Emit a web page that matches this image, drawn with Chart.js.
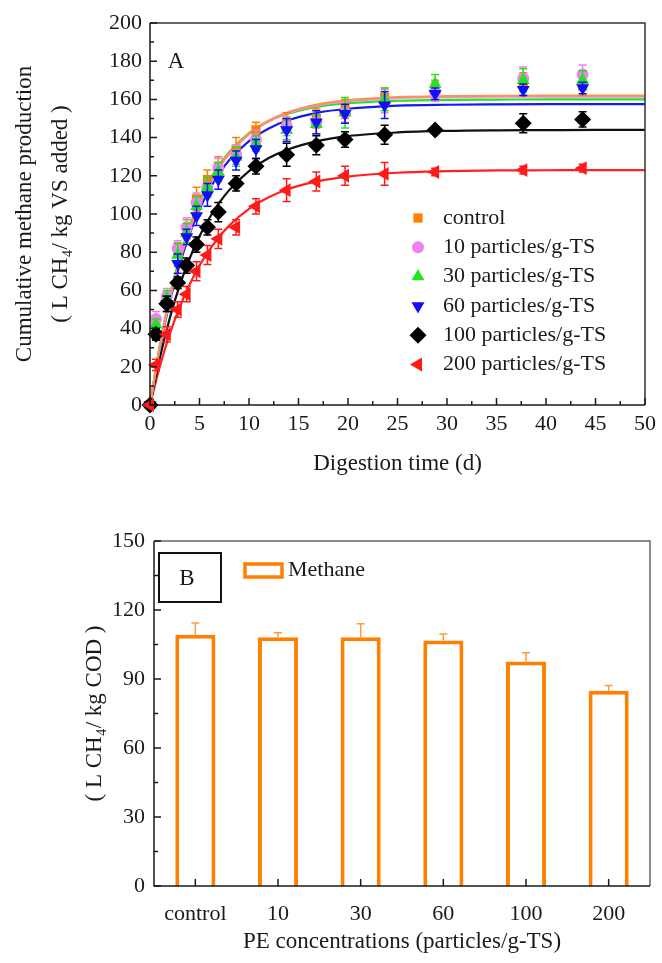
<!DOCTYPE html>
<html>
<head>
<meta charset="utf-8">
<script src="https://cdn.jsdelivr.net/npm/chart.js@4.4.1/dist/chart.umd.min.js"></script>
<style>
  body { margin: 0; background: #fff; }
  #wrap { position: relative; width: 662px; height: 963px; }
  #topBox { position: absolute; left: 0; top: 0; width: 662px; height: 490px; }
  #botBox { position: absolute; left: 0; top: 490px; width: 662px; height: 473px; }
</style>
</head>
<body>
<div id="wrap">
  <div id="topBox"><canvas id="cumChart" width="662" height="490"></canvas></div>
  <div id="botBox"><canvas id="yieldChart" width="662" height="473"></canvas></div>
</div>
<script>
// ---- panel A: cumulative methane, measured points (days) ----
const days = [0, 0.6, 1.7, 2.8, 3.7, 4.7, 5.8, 6.9, 8.7, 10.7, 13.8, 16.8, 19.7, 23.7, 28.8, 37.7, 43.7];

const controlVals = [0, 43, 55, 80, 92, 108, 118, 125, 134, 144, 148, 150, 155, 161, 165, 168, 167];
const controlErr  = [0, 3, 4, 5, 5, 6, 5, 5, 6, 4, 5, 5, 5, 5, 5, 6, 5];
const pe10Vals = [0, 45, 57, 82, 93, 106, 114, 124, 131, 139, 146, 148, 153, 159, 164, 171, 173];
const pe10Err  = [0, 4, 4, 4, 5, 5, 5, 5, 5, 5, 5, 6, 5, 6, 5, 6, 5];
const pe30Vals = [0, 42, 56, 78.5, 90, 104, 114, 122, 130, 137, 144, 147, 153, 160, 168, 170, 170];
const pe30Err  = [0, 3, 4, 6, 5, 5, 5, 5, 5, 4, 5, 5, 8, 6, 5, 6, 5];
const pe60Vals = [0, 37, 53, 74, 88, 99, 110, 118, 128, 134, 144, 148, 152.5, 157, 163, 165, 166];
const pe60Err  = [0, 3, 4, 5, 4, 5, 6, 5, 5, 5, 6, 6, 5, 7, 3, 3, 3];
const pe100Vals = [0, 37, 53, 64, 73, 84, 93, 101, 116, 125, 131, 136, 139, 141.5, 144, 147.5, 149.5];
const pe100Err  = [0, 3, 4, 3, 4, 4, 4, 5, 4, 4, 6, 5, 4, 5, 1, 5, 4];
const pe200Vals = [0, 21, 37, 50, 58, 70, 78.5, 87, 93, 104, 112.5, 117, 120, 121, 122, 123, 124];
const pe200Err  = [0, 3, 4, 4, 4, 5, 5, 5, 4, 4, 6, 5, 5, 6, 2, 2, 2];

// fitted curves, read at these days
const fitDays = [0, 1, 2, 3, 4, 5, 6, 7, 8, 10, 12, 14, 17, 20, 25, 30, 35, 40, 45, 50];
const controlFit = [0, 30.7, 55.6, 75.7, 92.1, 105.3, 116.0, 124.8, 131.8, 142.2, 149.0, 153.4, 157.4, 159.6, 161.2, 161.7, 161.9, 162, 162, 162];
const pe10Fit  = [0, 30.6, 55.4, 75.5, 91.8, 105.0, 115.7, 124.4, 131.4, 141.7, 148.5, 153.0, 156.9, 159.1, 160.7, 161.2, 161.4, 161.5, 161.5, 161.5];
const pe30Fit  = [0, 31.6, 57.0, 77.3, 93.6, 106.7, 117.3, 125.7, 132.5, 142.3, 148.6, 152.6, 156.2, 158.0, 159.3, 159.8, 159.9, 160, 160, 160];
const pe60Fit  = [0, 29.8, 54.0, 73.6, 89.5, 102.4, 112.8, 121.3, 128.1, 138.2, 144.8, 149.2, 153.1, 155.1, 156.7, 157.2, 157.4, 157.5, 157.5, 157.5];
const pe100Fit = [0, 24.9, 45.5, 62.6, 76.7, 88.3, 97.9, 105.9, 112.5, 122.5, 129.3, 133.9, 138.3, 140.8, 142.7, 143.5, 143.8, 143.9, 144, 144];
const pe200Fit = [0, 20.3, 37.2, 51.3, 63.1, 73.0, 81.2, 88.1, 93.9, 102.7, 108.8, 113.1, 117.2, 119.6, 121.6, 122.4, 122.8, 122.9, 123, 123];

const groupLabels = ['control', '10 particles/g-TS', '30 particles/g-TS', '60 particles/g-TS', '100 particles/g-TS', '200 particles/g-TS'];

// ---- panel B: methane yield ----
const peLabels = ['control', '10', '30', '60', '100', '200'];
const methaneYield = [109.2, 108.1, 108.1, 106.7, 97.6, 84.9];
const methaneErr = [5.2, 2.0, 5.9, 2.9, 3.8, 2.3];

Chart.defaults.font.family = '"Liberation Serif", "Times New Roman", serif';
Chart.defaults.font.size = 22;
Chart.defaults.color = '#1a1a1a';
Chart.defaults.animation = false;

const markerColors = ['#FF7F00', '#F080F0', '#1FE51F', '#1010F5', '#000000', '#FF1A1A'];
const curveColors  = ['#FA9358', '#F08CF0', '#28E028', '#1818F0', '#111111', '#FF2020'];
const markerStyles = ['rect', 'circle', 'triangle', 'triangle', 'rectRot', 'triangle'];
const markerRot = [0, 0, 0, 180, 0, 270];
const markerSize = [6.5, 6, 7.5, 7.5, 8.5, 8];

// symmetric (or upward only) error bars, drawn under each dataset's marks
const errorBars = {
  id: 'errorBars',
  beforeDatasetDraw(chart, args) {
    const ds = chart.data.datasets[args.index];
    if (!ds.errors) return;
    const ys = chart.scales.y;
    const ctx = chart.ctx;
    ctx.save();
    ctx.strokeStyle = ds.errColor || ds.borderColor;
    ctx.lineWidth = 1.5;
    args.meta.data.forEach((el, i) => {
      const e = ds.errors[i];
      if (!e) return;
      const v = typeof ds.data[i] === 'object' ? ds.data[i].y : ds.data[i];
      const x = el.x;
      const hi = ys.getPixelForValue(v + e);
      const lo = ds.upOnly ? ys.getPixelForValue(v) : ys.getPixelForValue(v - e);
      ctx.beginPath();
      ctx.moveTo(x, lo); ctx.lineTo(x, hi);
      ctx.moveTo(x - 4, hi); ctx.lineTo(x + 4, hi);
      if (!ds.upOnly) { ctx.moveTo(x - 4, lo); ctx.lineTo(x + 4, lo); }
      ctx.stroke();
    });
    ctx.restore();
  }
};

// box frame with inward ticks on the left and bottom axes
const frame = {
  id: 'frame',
  afterDatasetsDraw(chart, args, opts) {
    const { ctx, chartArea: a, scales } = chart;
    ctx.save();
    ctx.lineWidth = 1.5;
    ctx.strokeStyle = opts.far || '#333';
    ctx.beginPath();
    ctx.moveTo(a.left, a.top); ctx.lineTo(a.right, a.top); ctx.lineTo(a.right, a.bottom);
    ctx.stroke();
    ctx.strokeStyle = '#1a1a1a';
    ctx.beginPath();
    ctx.moveTo(a.left, a.top); ctx.lineTo(a.left, a.bottom); ctx.lineTo(a.right, a.bottom);
    ctx.stroke();

    ctx.beginPath();
    const ys = scales.y;
    ys.ticks.forEach((t, i) => {
      const p = ys.getPixelForValue(t.value);
      ctx.moveTo(a.left, p); ctx.lineTo(a.left + 7, p);
      if (i < ys.ticks.length - 1) {
        const m = ys.getPixelForValue((t.value + ys.ticks[i + 1].value) / 2);
        ctx.moveTo(a.left, m); ctx.lineTo(a.left + 4, m);
      }
    });
    const xs = scales.x;
    xs.ticks.forEach((t, i) => {
      const p = xs.getPixelForTick(i);
      ctx.moveTo(p, a.bottom); ctx.lineTo(p, a.bottom - 7);
      if (opts.xMinor && i < xs.ticks.length - 1) {
        const m = xs.getPixelForValue((t.value + xs.ticks[i + 1].value) / 2);
        ctx.moveTo(m, a.bottom); ctx.lineTo(m, a.bottom - 4);
      }
    });
    ctx.stroke();
    ctx.restore();
  }
};

// marker legend inside panel A plus the panel letter
const sideLegend = {
  id: 'sideLegend',
  afterDraw(chart) {
    const ctx = chart.ctx;
    ctx.save();
    ctx.fillStyle = '#1a1a1a';
    ctx.textBaseline = 'middle';
    ctx.textAlign = 'center';
    ctx.font = '23px "Liberation Serif", serif';
    ctx.fillText('A', 176, 62);
    ctx.font = '22px "Liberation Serif", serif';
    ctx.textAlign = 'left';
    chart.data.datasets.filter(d => d.errors).forEach((ds, i) => {
      const y = 218 + i * 29.3;
      ctx.fillStyle = ds.backgroundColor;
      ctx.strokeStyle = ds.backgroundColor;
      Chart.helpers.drawPoint(ctx, {
        pointStyle: ds.pointStyle, rotation: ds.pointRotation,
        radius: ds.pointRadius, borderWidth: 0
      }, 418, y);
      ctx.fillStyle = '#1a1a1a';
      ctx.fillText(ds.label, 443, y);
    });
    ctx.restore();
  }
};

const groupVals = [controlVals, pe10Vals, pe30Vals, pe60Vals, pe100Vals, pe200Vals];
const groupErr = [controlErr, pe10Err, pe30Err, pe60Err, pe100Err, pe200Err];
const groupFit = [controlFit, pe10Fit, pe30Fit, pe60Fit, pe100Fit, pe200Fit];

const cumSets = [];
groupLabels.forEach((lab, i) => {
  cumSets.push({
    label: lab + ' fit',
    data: fitDays.map((d, j) => ({ x: d, y: groupFit[i][j] })),
    showLine: true,
    pointRadius: 0,
    borderColor: curveColors[i],
    borderWidth: 2.2,
    cubicInterpolationMode: 'monotone',
    order: 20
  });
});
groupLabels.forEach((lab, i) => {
  cumSets.push({
    label: lab,
    data: days.map((d, j) => ({ x: d, y: groupVals[i][j] })),
    errors: groupErr[i],
    showLine: false,
    pointStyle: markerStyles[i],
    pointRotation: markerRot[i],
    pointRadius: markerSize[i],
    backgroundColor: markerColors[i],
    borderColor: markerColors[i],
    borderWidth: 0,
    clip: false,
    order: 10 - i
  });
});

new Chart(document.getElementById('cumChart'), {
  type: 'scatter',
  data: { datasets: cumSets },
  options: {
    responsive: false,
    layout: { padding: { top: 23, right: 13, left: 0, bottom: 0 } },
    plugins: { legend: { display: false }, tooltip: { enabled: false }, frame: { xMinor: true, far: '#333' } },
    scales: {
      x: {
        type: 'linear', min: 0, max: 50,
        ticks: { stepSize: 5, padding: 6 },
        grid: { display: false, drawTicks: false },
        border: { display: false },
        title: { display: true, text: 'Digestion time (d)', font: { size: 23 }, padding: { top: 0, bottom: 12 } },
        afterFit: s => { s.height = 85; }
      },
      y: {
        min: 0, max: 200,
        ticks: { stepSize: 20, padding: 8 },
        grid: { display: false, drawTicks: false },
        border: { display: false },
        title: {
          display: true,
          text: ['Cumulative methane production', '( L CH\u2084/ kg VS added )'],
          font: { size: 23, lineHeight: 1.55 },
          padding: { top: 7, bottom: 0 }
        },
        afterFit: s => { s.width = 150; }
      }
    }
  },
  plugins: [errorBars, frame, sideLegend]
});

// panel letter box and series key for panel B
const barKey = {
  id: 'barKey',
  afterDraw(chart) {
    const ctx = chart.ctx;
    ctx.save();
    ctx.strokeStyle = '#111';
    ctx.lineWidth = 2;
    ctx.strokeRect(159, 63, 62, 49);
    ctx.fillStyle = '#1a1a1a';
    ctx.font = '23px "Liberation Serif", serif';
    ctx.textAlign = 'center';
    ctx.textBaseline = 'middle';
    ctx.fillText('B', 187, 89);
    const ds = chart.data.datasets[0];
    ctx.strokeStyle = ds.borderColor;
    ctx.lineWidth = 3.5;
    ctx.strokeRect(245, 74, 37, 13);
    ctx.textAlign = 'left';
    ctx.font = '22px "Liberation Serif", serif';
    ctx.fillText(ds.label, 288, 80);
    ctx.restore();
  }
};

new Chart(document.getElementById('yieldChart'), {
  type: 'bar',
  data: {
    labels: peLabels,
    datasets: [{
      label: 'Methane',
      data: methaneYield,
      errors: methaneErr,
      upOnly: true,
      errColor: '#FF9A40',
      backgroundColor: '#ffffff',
      borderColor: '#FF8000',
      borderWidth: 4,
      borderSkipped: 'start',
      categoryPercentage: 1,
      barPercentage: 0.485
    }]
  },
  options: {
    responsive: false,
    layout: { padding: { top: 51, right: 12, left: 0, bottom: 0 } },
    plugins: { legend: { display: false }, tooltip: { enabled: false }, frame: { xMinor: false, far: '#666' } },
    scales: {
      x: {
        ticks: { padding: 15 },
        grid: { display: false, drawTicks: false },
        border: { display: false },
        title: { display: true, text: 'PE concentrations (particles/g-TS)', font: { size: 23 }, padding: { top: 0, bottom: 7 } },
        afterFit: s => { s.height = 77; }
      },
      y: {
        min: 0, max: 150,
        ticks: { stepSize: 30, padding: 9 },
        grid: { display: false, drawTicks: false },
        border: { display: false },
        title: {
          display: true,
          text: '( L CH\u2084/ kg COD )',
          font: { size: 23 },
          padding: { top: 81, bottom: 0 }
        },
        afterFit: s => { s.width = 154; }
      }
    }
  },
  plugins: [errorBars, frame, barKey]
});
</script>
</body>
</html>
